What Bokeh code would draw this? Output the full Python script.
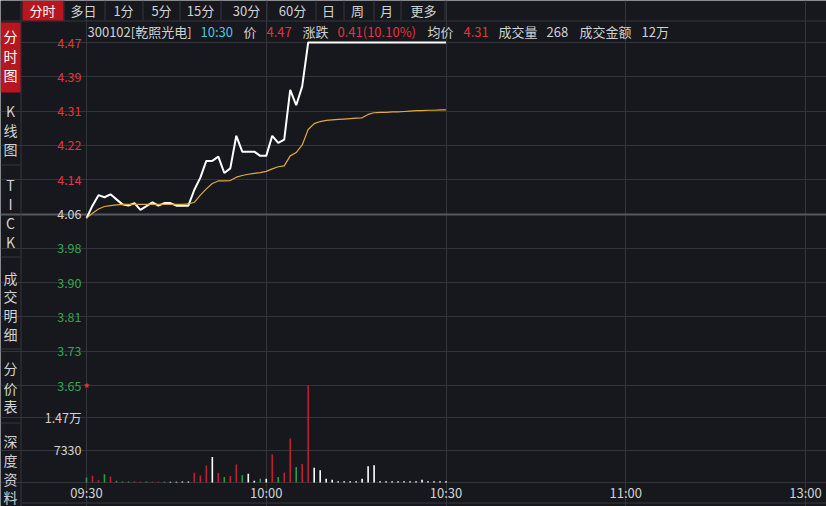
from bokeh.plotting import figure
from bokeh.models import Range1d, FixedTicker, Grid, Label, BoxAnnotation
from bokeh.embed import file_html
from bokeh.resources import INLINE

# ---------------- data ----------------
minutes = list(range(61))  # minutes after 09:30
price = [4.05, 4.08, 4.105, 4.10, 4.107, 4.095, 4.083, 4.08, 4.086, 4.07,
         4.079, 4.088, 4.08, 4.086, 4.086, 4.08, 4.08, 4.08, 4.118, 4.147,
         4.187, 4.187, 4.197, 4.158, 4.169, 4.247, 4.209, 4.209, 4.209, 4.199,
         4.199, 4.247, 4.23, 4.238, 4.357, 4.32, 4.365, 4.47, 4.47, 4.47,
         4.47, 4.47, 4.47, 4.47, 4.47, 4.47, 4.47, 4.47, 4.47, 4.47,
         4.47, 4.47, 4.47, 4.47, 4.47, 4.47, 4.47, 4.47, 4.47, 4.47, 4.47]
avg_price = [4.05, 4.062, 4.072, 4.078, 4.08, 4.082, 4.083, 4.083, 4.083, 4.083,
             4.083, 4.083, 4.083, 4.083, 4.083, 4.083, 4.083, 4.084, 4.088, 4.105,
             4.12, 4.133, 4.139, 4.139, 4.14, 4.148, 4.152, 4.155, 4.157, 4.159,
             4.162, 4.168, 4.173, 4.175, 4.199, 4.207, 4.225, 4.262, 4.276, 4.281,
             4.284, 4.285, 4.286, 4.287, 4.288, 4.289, 4.29, 4.298, 4.302, 4.303,
             4.303, 4.304, 4.304, 4.305, 4.306, 4.307, 4.307, 4.308, 4.308, 4.309, 4.309]
volume = [1140, 1520, 520, 1890, 1360, 390, 230, 230, 300, 230,
          230, 250, 230, 200, 150, 150, 200, 200, 2200, 1590,
          3870, 5800, 2160, 1250, 1480, 4090, 1660, 2000, 410, 860,
          840, 6370, 1250, 2230, 10000, 3520, 4210, 21990, 3340, 2800,
          840, 610, 300, 300, 300, 300, 840, 3710, 3930, 300,
          300, 300, 300, 300, 300, 300, 610, 300, 300, 300, 268]
# 1 = up (red), -1 = down (green), 0 = unchanged (white)
vol_dir = [-1, 1, 1, -1, 1, -1, -1, -1, 1, 1,
           -1, 1, 1, -1, 0, 0, 0, 0, 1, 1,
           1, 0, 1, -1, 1, 1, -1, 0, 0, -1,
           0, 1, -1, 1, 1, -1, 1, 1, 0, 0,
           0, 0, 0, 0, 0, 0, 0, 0, 0, 0,
           0, 0, 0, 0, 0, 0, 0, 0, 0, 0, 0]

prev_close = 4.06
price_tick_values = [4.47, 4.388, 4.306, 4.224, 4.142, 4.06, 3.978, 3.896, 3.814, 3.732, 3.65]
price_tick_labels = ["4.47", "4.39", "4.31", "4.22", "4.14", "4.06", "3.98", "3.90", "3.81", "3.73", "3.65"]
vol_tick_values = [7330, 14660]
vol_tick_labels = ["7330", "1.47万"]
vol_max = 21990
x_tick_values = [0, 30, 60, 90, 120]
x_tick_labels = ["09:30", "10:00", "10:30", "11:00", "13:00"]

top_tabs = ["分时", "多日", "1分", "5分", "15分", "30分", "60分", "日", "周", "月", "更多"]
side_tabs = [["分", "时", "图"], ["K", "线", "图"], ["T", "I", "C", "K"],
             ["成", "交", "明", "细"], ["分", "价", "表"], ["深", "度", "资", "料"]]
info_texts = ["300102[乾照光电]", "10:30", "价", "4.47", "涨跌", "0.41(10.10%)",
              "均价", "4.31", "成交量", "268", "成交金额", "12万"]
info_kinds = ["n", "t", "n", "r", "n", "r", "n", "r", "n", "n", "n", "n"]

# ---------------- layout / style ----------------
W, H = 826, 506
SX, SY = W / 826.0, H / 506.0
def cx(X):
    return X * SX
def cy(Y):
    return Y * SY

BG = "#16181d"
GRID = "#32353b"
SEP = "#34373d"
TXT = "#d2d2d2"
RED_T = "#e0353f"
GRN_T = "#2fa84a"
RED_B = "#c0202b"
GRN_B = "#2a9e3c"
CYAN = "#45c6e0"
TAB_RED = "#b8161e"
FONT = "Noto Sans CJK SC"

p_top, p_bot = price_tick_values[0], price_tick_values[-1]
X0 = cx(86)                              # canvas x of 09:30
MPX = (cx(805) - cx(86)) / 120.0         # pixels per minute
Y_TOP = cy(42)                           # canvas y of the limit-up price
Y_MID = cy(385)                          # canvas y of the limit-down price / volume top
Y_BASE = cy(482)                         # canvas y of zero volume
PPX = (p_top - p_bot) / (Y_MID - Y_TOP)
VPX = vol_max / (Y_BASE - Y_MID)

x_start, x_end = -X0 / MPX, (W - X0) / MPX
y_hi, y_lo = p_top + Y_TOP * PPX, p_top - (H - Y_TOP) * PPX
v_lo, v_hi = -(H - Y_BASE) * VPX, Y_BASE * VPX
price_at_base = p_top - (Y_BASE - Y_TOP) * PPX
x_left_col = (cx(21) - X0) / MPX

p = figure(width=W, height=H, output_backend="svg", toolbar_location=None,
           x_range=Range1d(x_start, x_end), y_range=Range1d(y_lo, y_hi),
           x_axis_location=None, y_axis_location=None,
           min_border=0, min_border_left=0, min_border_right=0,
           min_border_top=0, min_border_bottom=0,
           background_fill_color=BG, border_fill_color=BG, outline_line_color=None)
p.extra_y_ranges = {"vol": Range1d(v_lo, v_hi)}
for g in p.grid:
    g.visible = False

# grids
p.add_layout(Grid(dimension=0, ticker=FixedTicker(ticks=x_tick_values), bounds=(price_at_base, p_top),
                  grid_line_color=GRID))
p.add_layout(Grid(dimension=1, ticker=FixedTicker(ticks=[v for v in price_tick_values if v != prev_close]),
                  bounds=(0, x_end), grid_line_color=GRID))
p.add_layout(Grid(dimension=1, ticker=FixedTicker(ticks=vol_tick_values), y_range_name="vol",
                  bounds=(0, x_end), grid_line_color=GRID))
p.add_layout(Grid(dimension=1, ticker=FixedTicker(ticks=[0]), y_range_name="vol",
                  bounds=(x_left_col, x_end), grid_line_color=GRID))
p.add_layout(Grid(dimension=1, ticker=FixedTicker(ticks=[prev_close]),
                  bounds=(0, x_end), grid_line_color="#55585e", grid_line_width=2))

# volume bars
cmap = {1: RED_B, -1: GRN_B, 0: "#ffffff"}
bar_colors = [cmap[d] for d in vol_dir]
p.segment(x0=minutes, y0=[0] * len(minutes), x1=minutes, y1=volume, y_range_name="vol",
          line_color=bar_colors, line_width=1.6)

# price and average lines
p.line(minutes, price, line_color="#ffffff", line_width=2)
p.line(minutes, avg_price, line_color="#e3a93b", line_width=1.2)

# price / volume tick labels
for v, l in zip(price_tick_values, price_tick_labels):
    col = RED_T if v > prev_close else (GRN_T if v < prev_close else TXT)
    p.add_layout(Label(x=cx(81), y=v, x_units="canvas", y_units="data", text=l,
                       text_align="right", text_baseline="middle", text_color=col,
                       text_font=FONT, text_font_size="12.5px"))
for v, l in zip(vol_tick_values, vol_tick_labels):
    p.add_layout(Label(x=cx(81), y=v, x_units="canvas", y_units="data", y_range_name="vol",
                       text=l, text_align="right", text_baseline="middle", text_color=TXT,
                       text_font=FONT, text_font_size="12.5px"))
p.add_layout(Label(x=0, y=p_bot, x_units="data", y_units="data", text="★",
                   text_align="center", text_baseline="middle", text_color=RED_T,
                   text_font="DejaVu Sans", text_font_size="8px"))
# time labels
for v, l in zip(x_tick_values, x_tick_labels):
    p.add_layout(Label(x=v, y=cy(492), x_units="data", y_units="canvas", text=l,
                       text_align="center", text_baseline="middle", text_color=TXT,
                       text_font=FONT, text_font_size="13px"))

# ---------------- chrome: tabs ----------------
def box(l, r, t, b, color):
    p.add_layout(BoxAnnotation(left=cx(l), right=cx(r), top=cy(t), bottom=cy(b),
                               left_units="canvas", right_units="canvas",
                               top_units="canvas", bottom_units="canvas",
                               fill_color=color, fill_alpha=1, line_color=None))

def text(X, Y, s, color, size="13px", align="center"):
    p.add_layout(Label(x=cx(X), y=cy(Y), x_units="canvas", y_units="canvas", text=s,
                       text_align=align, text_baseline="middle", text_color=color,
                       text_font=FONT, text_font_size=size))

# separators
box(0, 826, 20, 21, SEP)
box(20, 21, 0, 506, SEP)
box(21, 826, 502, 503, SEP)
box(22, 63, 0, 20, TAB_RED)
tab_centers = [42, 83, 123, 161, 200, 246, 292, 328, 357, 386, 423]
tab_seps = [63, 104, 142, 179, 220, 266, 315, 343, 373, 400, 444]
for s in tab_seps:
    box(s, s + 1, 0, 20, SEP)
for i, (c, t) in enumerate(zip(tab_centers, top_tabs)):
    text(c, 10, t, "#ffffff" if i == 0 else TXT)

box(0, 20, 22, 92, TAB_RED)
side_y = [[35, 55, 74], [110, 129, 148], [184, 203, 222, 241],
          [277, 295, 314, 333], [367, 387, 405], [440, 459, 478, 496]]
for sep in [164, 256, 348, 422]:
    box(0, 20, sep, sep + 1, SEP)
for gi, (chars, ys) in enumerate(zip(side_tabs, side_y)):
    for ch, yy in zip(chars, ys):
        text(10, yy, ch, "#ffffff" if gi == 0 else TXT, size="14px")

# info line
info_x = [87, 200, 243, 266, 302, 337, 427, 463, 498, 546, 579, 641]
kind_color = {"n": TXT, "t": CYAN, "r": RED_T}
for X, s, k in zip(info_x, info_texts, info_kinds):
    text(X, 31, s, kind_color[k], align="left")

open("out.html", "w").write(file_html(p, INLINE))
